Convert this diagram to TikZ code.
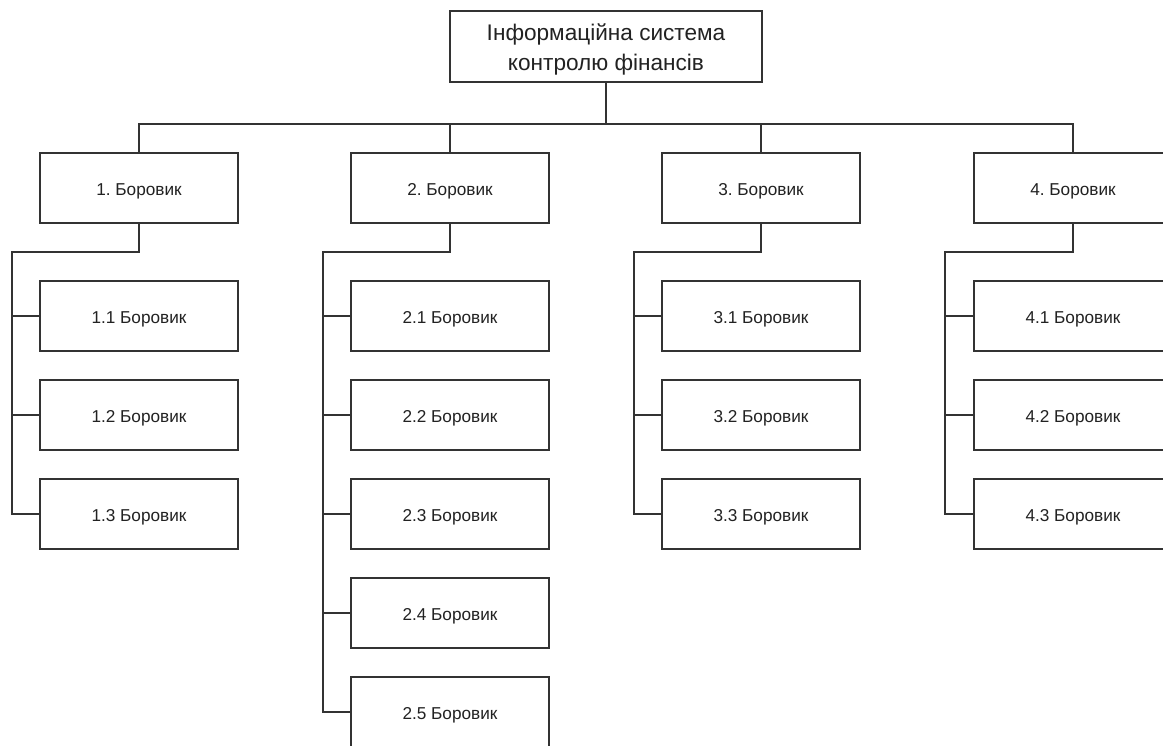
\documentclass[tikz,border=0pt]{standalone}
\usepackage{fontspec}
\setmainfont{Liberation Sans}
\definecolor{ln}{HTML}{333333}
\definecolor{tx}{HTML}{222222}
\begin{document}
\begin{tikzpicture}[x=1pt,y=-1pt,
  box/.style={draw=ln,line width=1.2pt,rectangle,minimum width=198pt,minimum height=70pt,inner sep=0pt,
    font=\fontsize{17.2}{20}\selectfont\frenchspacing,text=tx,text depth=0pt,text height=14pt},
  topbox/.style={draw=ln,line width=1.2pt,rectangle,minimum width=312pt,minimum height=71pt,inner sep=0pt},
  conn/.style={draw=ln,line width=1.2pt}]
\clip (0,0) rectangle (1163,745);
\fill[white] (0,0) rectangle (1163,745);
\node[topbox] (top) at (606,46.5) {};
\node[font=\fontsize{22.6}{30}\selectfont,text=tx,align=center,inner sep=0pt] (toptext) at (606,49.5) {Інформаційна система\\контролю фінансів};
\node[box] (n1) at (139,188) {1. Боровик};
\node[box] (n2) at (450,188) {2. Боровик};
\node[box] (n3) at (761,188) {3. Боровик};
\node[box] (n4) at (1073,188) {4. Боровик};
\coordinate (bus) at (606,124);
\draw[conn] (top.south) -- (bus);
\draw[conn] (n1.north) |- (bus) -| (n4.north);
\draw[conn] (n2.north) |- (bus);
\draw[conn] (n3.north) |- (bus);
% column 1
\node[box] (n11) at (139,316) {1.1 Боровик};
\node[box] (n12) at (139,415) {1.2 Боровик};
\node[box] (n13) at (139,514) {1.3 Боровик};
\coordinate (c1) at (12,252);
\draw[conn] (n1.south) |- (c1) |- (n13.west);
\draw[conn] (c1 |- n11.west) -- (n11.west);
\draw[conn] (c1 |- n12.west) -- (n12.west);
% column 2
\node[box] (n21) at (450,316) {2.1 Боровик};
\node[box] (n22) at (450,415) {2.2 Боровик};
\node[box] (n23) at (450,514) {2.3 Боровик};
\node[box] (n24) at (450,613) {2.4 Боровик};
\node[box] (n25) at (450,712) {2.5 Боровик};
\coordinate (c2) at (323,252);
\draw[conn] (n2.south) |- (c2) |- (n25.west);
\draw[conn] (c2 |- n21.west) -- (n21.west);
\draw[conn] (c2 |- n22.west) -- (n22.west);
\draw[conn] (c2 |- n23.west) -- (n23.west);
\draw[conn] (c2 |- n24.west) -- (n24.west);
% column 3
\node[box] (n31) at (761,316) {3.1 Боровик};
\node[box] (n32) at (761,415) {3.2 Боровик};
\node[box] (n33) at (761,514) {3.3 Боровик};
\coordinate (c3) at (634,252);
\draw[conn] (n3.south) |- (c3) |- (n33.west);
\draw[conn] (c3 |- n31.west) -- (n31.west);
\draw[conn] (c3 |- n32.west) -- (n32.west);
% column 4
\node[box] (n41) at (1073,316) {4.1 Боровик};
\node[box] (n42) at (1073,415) {4.2 Боровик};
\node[box] (n43) at (1073,514) {4.3 Боровик};
\coordinate (c4) at (945,252);
\draw[conn] (n4.south) |- (c4) |- (n43.west);
\draw[conn] (c4 |- n41.west) -- (n41.west);
\draw[conn] (c4 |- n42.west) -- (n42.west);
\end{tikzpicture}
\end{document}
